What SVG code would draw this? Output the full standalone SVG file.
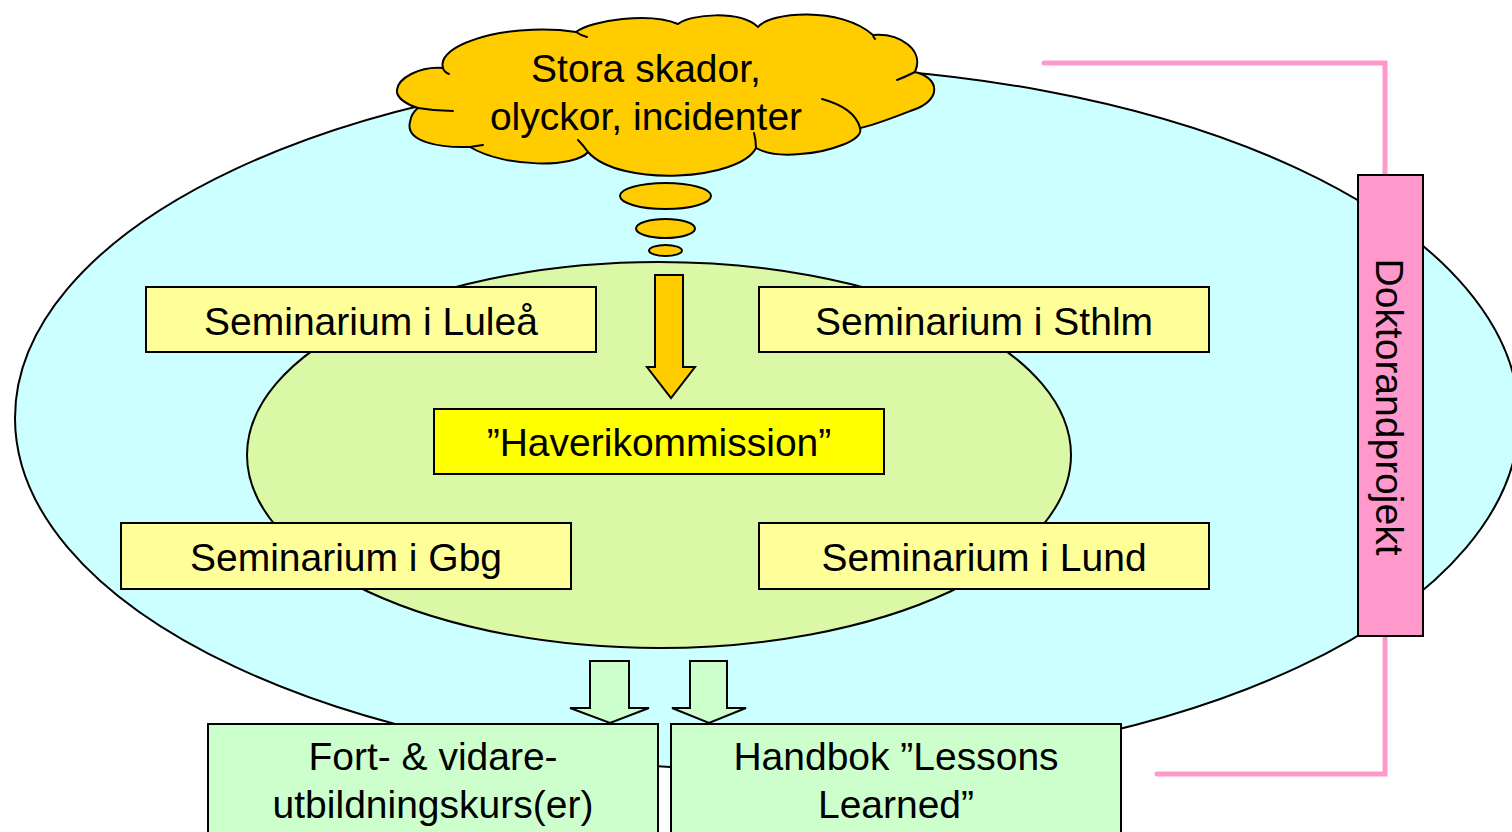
<svg xmlns="http://www.w3.org/2000/svg" width="1512" height="832" viewBox="0 0 1512 832">
  <style>
    .lbl { font-family: "Liberation Sans", Arial, sans-serif; font-size: 39px; fill: #000; text-anchor: middle; }
    .ol { stroke: #000; stroke-width: 2; }
    .box { fill: #FFFF99; stroke: #000; stroke-width: 2; }
    .out { fill: #CCFFCC; stroke: #000; stroke-width: 2; }
    .pink { fill: none; stroke: #FF99CC; stroke-width: 5; stroke-linecap: round; stroke-linejoin: miter; }
    .cloud { fill: #FFCC00; stroke: #000; stroke-width: 2; stroke-linejoin: round; }
    .tail { fill: none; stroke: #000; stroke-width: 2; stroke-linecap: round; }
  </style>
  <rect width="1512" height="832" fill="#FFFFFF"/>

  <g id="outer-area">
    <ellipse cx="767" cy="418" rx="752" ry="352" fill="#CCFFFF" class="ol"/>
  </g>
  <g id="inner-area">
    <ellipse cx="659" cy="455" rx="412" ry="193" fill="#DAF8A6" class="ol"/>
  </g>

  <g id="cloud">
    <path class="cloud" d="M 418 108
      C 405 104 396 97 397 90
      C 398 78 420 66 443 68
      C 440 58 450 45 490 35
      C 515 29 550 28 576 32
      C 592 20 650 12 678 24
      C 690 14 740 10 758 27
      C 770 12 840 6 873 35
      C 900 33 925 50 915 72
      C 940 78 942 100 913 110
      C 895 117 875 125 860 128
      C 864 140 830 152 800 154
      C 780 156 765 153 756 148
      C 740 180 620 188 588 152
      C 575 168 505 168 470 147
      C 440 148 405 142 410 122
      C 411 115 414 111 418 108 Z"/>
    <path class="tail" d="M 443 68 Q 444 72 449 74"/>
    <path class="tail" d="M 418 108 Q 435 111 453 111"/>
    <path class="tail" d="M 470 147 Q 476 146 483 145"/>
    <path class="tail" d="M 576 32 Q 580 35 587 37"/>
    <path class="tail" d="M 873 35 Q 873 37 875 39"/>
    <path class="tail" d="M 915 72 Q 905 77 897 80"/>
    <path class="tail" d="M 822 99 Q 855 108 860 128"/>
    <path class="tail" d="M 756 148 Q 756 140 754 133"/>
    <path class="tail" d="M 588 152 Q 583 145 578 140"/>
    <text class="lbl" x="646" y="82">Stora skador,</text>
    <text class="lbl" x="646" y="130">olyckor, incidenter</text>
  </g>

  <g id="thought-bubbles">
    <ellipse cx="665.5" cy="196" rx="45.5" ry="13" class="cloud"/>
    <ellipse cx="665.5" cy="228.5" rx="29.5" ry="9.5" class="cloud"/>
    <ellipse cx="665.5" cy="250.5" rx="16.5" ry="5.5" class="cloud"/>
  </g>

  <g id="seminarium-lulea">
    <rect x="146" y="287" width="450" height="65" class="box"/>
    <text class="lbl" x="371" y="335">Seminarium i Luleå</text>
  </g>
  <g id="seminarium-sthlm">
    <rect x="759" y="287" width="450" height="65" class="box"/>
    <text class="lbl" x="984" y="335">Seminarium i Sthlm</text>
  </g>
  <g id="seminarium-gbg">
    <rect x="121" y="523" width="450" height="66" class="box"/>
    <text class="lbl" x="346" y="571">Seminarium i Gbg</text>
  </g>
  <g id="seminarium-lund">
    <rect x="759" y="523" width="450" height="66" class="box"/>
    <text class="lbl" x="984" y="571">Seminarium i Lund</text>
  </g>

  <g id="connectors">
    <path d="M 655 275 L 683 275 L 683 367 L 695 367 L 671 398 L 647 367 L 655 367 Z" fill="#FFCC00" class="ol"/>
    <path d="M 590 661 L 629 661 L 629 708 L 649 708 L 610 723 L 570 708 L 590 708 Z" fill="#CCFFCC" class="ol"/>
    <path d="M 690 661 L 727 661 L 727 708 L 746 708 L 709 723 L 672 708 L 690 708 Z" fill="#CCFFCC" class="ol"/>
    <path class="pink" d="M 1044 63 L 1385 63 L 1385 175"/>
    <path class="pink" d="M 1385 636 L 1385 774 L 1157 774"/>
  </g>

  <g id="haverikommission">
    <rect x="434" y="409" width="450" height="65" fill="#FFFF00" class="ol"/>
    <text class="lbl" x="659" y="456">”Haverikommission”</text>
  </g>

  <g id="doktorandprojekt">
    <rect x="1358" y="175" width="65" height="461" fill="#FF99CC" class="ol"/>
    <text class="lbl" transform="translate(1390 407) rotate(90)" x="0" y="0" dy="0.35em">Doktorandprojekt</text>
  </g>

  <g id="fortbildning">
    <rect x="208" y="724" width="450" height="130" class="out"/>
    <text class="lbl" x="433" y="770">Fort- &amp; vidare-</text>
    <text class="lbl" x="433" y="818">utbildningskurs(er)</text>
  </g>
  <g id="handbok">
    <rect x="671" y="724" width="450" height="130" class="out"/>
    <text class="lbl" x="896" y="770">Handbok ”Lessons</text>
    <text class="lbl" x="896" y="818">Learned”</text>
  </g>
</svg>
